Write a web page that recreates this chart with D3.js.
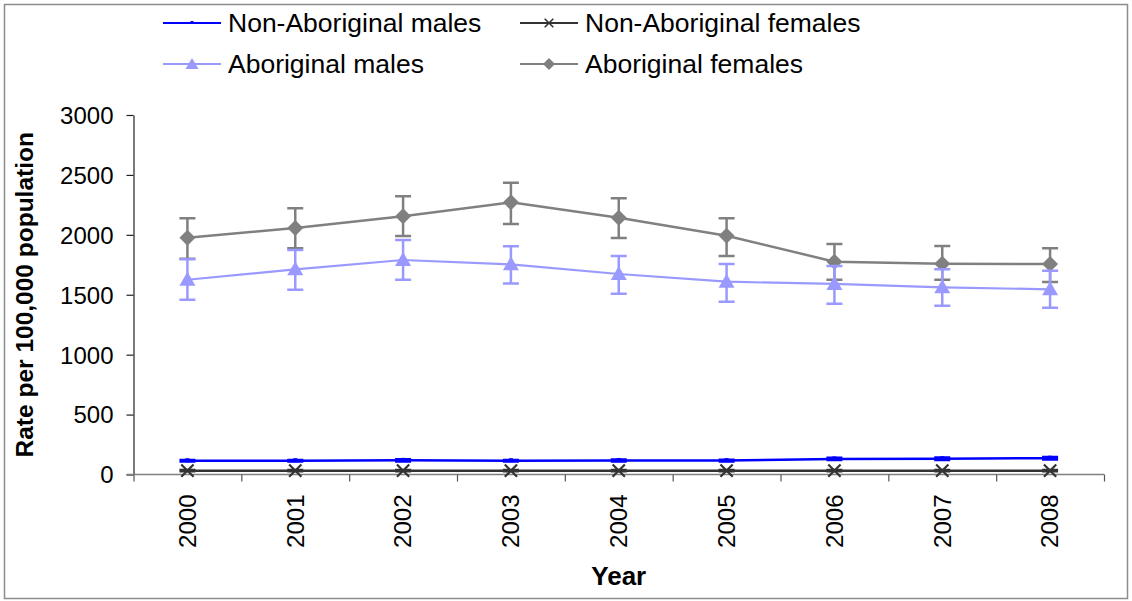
<!DOCTYPE html>
<html>
<head>
<meta charset="utf-8">
<script src="https://cdn.jsdelivr.net/npm/d3@7"></script>
<style>
  body { margin: 0; background: #fff; }
  svg { font-family: "Liberation Sans", Arial, sans-serif; }
</style>
</head>
<body>
<svg id="chart"></svg>
<script>
// categories and values
const years = ["2000", "2001", "2002", "2003", "2004", "2005", "2006", "2007", "2008"];
const yTicks = [0, 500, 1000, 1500, 2000, 2500, 3000];

const nonAbMales = [115, 115, 118, 115, 117, 116, 130, 132, 136];
const nonAbMalesLo = [108, 108, 108, 108, 108, 108, 120, 122, 126];
const nonAbMalesHi = [122, 122, 128, 122, 126, 124, 140, 142, 146];

const nonAbFemales = [32, 32, 32, 32, 32, 32, 32, 32, 32];
const nonAbFemalesLo = [27, 27, 27, 27, 27, 27, 27, 27, 27];
const nonAbFemalesHi = [37, 37, 37, 37, 37, 37, 37, 37, 37];

const abMales = [1625, 1712, 1790, 1754, 1673, 1609, 1590, 1562, 1545];
const abMalesLo = [1459, 1542, 1626, 1593, 1509, 1442, 1425, 1409, 1392];
const abMalesHi = [1796, 1874, 1957, 1904, 1823, 1757, 1740, 1712, 1700];

const abFemales = [1976, 2057, 2155, 2271, 2143, 1993, 1776, 1759, 1757];
const abFemalesLo = [1801, 1888, 1990, 2090, 1974, 1823, 1626, 1626, 1606];
const abFemalesHi = [2138, 2221, 2322, 2435, 2305, 2138, 1923, 1907, 1888];

const seriesNames = ["Non-Aboriginal males", "Non-Aboriginal females", "Aboriginal males", "Aboriginal females"];

function drawChart() {
    var wtot = 1132, htot = 601;
    var margin = { top: 115, right: 28, bottom: 126.5, left: 133.5 };

    const svg = d3.select("#chart")
        .attr("width", wtot)
        .attr("height", htot)
        .attr("viewBox", "0 0 " + wtot + " " + htot);

    // outer frame
    svg.append("rect")
        .attr("x", 4.5).attr("y", 4.5)
        .attr("width", wtot - 9).attr("height", htot - 7)
        .attr("fill", "#fff")
        .attr("stroke", "#8c8c8c")
        .attr("stroke-width", 1.5);

    // scales
    const xScale = d3.scaleBand(years, [margin.left, wtot - margin.right]);
    const xc = d => xScale(d) + xScale.bandwidth() / 2;
    const xEdge = d3.scaleLinear([0, years.length], [margin.left, wtot - margin.right]);
    const yScale = d3.scaleLinear([0, 3000], [htot - margin.bottom, margin.top]);

    // y axis
    svg.append("g")
        .attr("transform", `translate(${margin.left},0)`)
        .call(d3.axisLeft(yScale).tickValues(yTicks).tickFormat(d3.format("d"))
            .tickSizeInner(7).tickSizeOuter(0).tickPadding(13))
        .call(g => g.select(".domain").attr("stroke", "#222").attr("stroke-width", 1.2))
        .call(g => g.selectAll(".tick line").attr("stroke", "#222").attr("stroke-width", 1.2))
        .call(g => g.selectAll(".tick text")
            .attr("font-size", 24)
            .attr("fill", "#000")
            .attr("dy", "0.35em"));

    // x axis: edge ticks
    svg.append("g")
        .attr("transform", `translate(0,${yScale(0)})`)
        .call(d3.axisBottom(xEdge).tickValues(d3.range(years.length + 1)).tickFormat("").tickSizeInner(7).tickSizeOuter(0))
        .call(g => g.select(".domain").attr("stroke", "#808080").attr("stroke-width", 1.5)
            .attr("d", `M${margin.left - 7},0H${wtot - margin.right}`))
        .call(g => g.selectAll(".tick line").attr("stroke", "#555").attr("stroke-width", 1.2));

    // x axis: rotated labels
    svg.append("g")
        .attr("transform", `translate(0,${yScale(0)})`)
        .call(d3.axisBottom(xScale).tickSize(0).tickPadding(0))
        .call(g => g.select(".domain").remove())
        .call(g => g.selectAll(".tick text")
            .attr("font-size", 24)
            .attr("fill", "#000")
            .attr("text-anchor", "end")
            .attr("transform", "rotate(-90)")
            .attr("x", -20)
            .attr("y", 0)
            .attr("dy", "0.35em"));

    // axis titles
    svg.append("text")
        .attr("transform", `translate(33,${(margin.top + yScale(0)) / 2}) rotate(-90)`)
        .attr("text-anchor", "middle")
        .attr("font-size", 24.5)
        .attr("font-weight", "bold")
        .text("Rate per 100,000 population");

    svg.append("text")
        .attr("x", (margin.left + wtot - margin.right) / 2)
        .attr("y", 585)
        .attr("text-anchor", "middle")
        .attr("font-size", 26)
        .attr("font-weight", "bold")
        .text("Year");

    const series = [
        { name: seriesNames[0], v: nonAbMales, lo: nonAbMalesLo, hi: nonAbMalesHi, color: "#0000ff", width: 2.5, marker: "dash" },
        { name: seriesNames[1], v: nonAbFemales, lo: nonAbFemalesLo, hi: nonAbFemalesHi, color: "#333333", width: 2.5, marker: "cross" },
        { name: seriesNames[2], v: abMales, lo: abMalesLo, hi: abMalesHi, color: "#9999ff", width: 2.2, marker: "triangle" },
        { name: seriesNames[3], v: abFemales, lo: abFemalesLo, hi: abFemalesHi, color: "#808080", width: 2.5, marker: "diamond" }
    ];

    function drawMarker(g, type, color) {
        if (type === "dash") {
            g.append("rect").attr("x", -2).attr("y", -2.5).attr("width", 4).attr("height", 4).attr("fill", color);
        } else if (type === "cross") {
            g.append("path").attr("d", d3.symbol(d3.symbolX, 100)())
                .attr("fill", "none").attr("stroke", color).attr("stroke-width", 2.2);
        } else if (type === "triangle") {
            g.append("path").attr("d", "M0,-8L8,6L-8,6Z").attr("fill", color);
        } else if (type === "diamond") {
            g.append("path").attr("d", "M0,-8L8,0L0,8L-8,0Z").attr("fill", color);
        }
    }

    const I = d3.range(years.length);
    const plot = svg.append("g");

    // draw from back to front: aboriginal females, aboriginal males, then non-aboriginal
    [3, 2, 1, 0].forEach(k => {
        const s = series[k];
        const g = plot.append("g");

        // error bars
        g.append("g")
            .attr("stroke", s.color)
            .attr("stroke-width", 2.5)
            .attr("fill", "none")
            .selectAll("path")
            .data(I)
            .join("path")
            .attr("d", i => {
                const x = xc(years[i]), y1 = yScale(s.lo[i]), y2 = yScale(s.hi[i]);
                return `M${x},${y1}V${y2}M${x - 8},${y1}H${x + 8}M${x - 8},${y2}H${x + 8}`;
            });

        // line
        g.append("path")
            .attr("fill", "none")
            .attr("stroke", s.color)
            .attr("stroke-width", s.width)
            .attr("d", d3.line().x(i => xc(years[i])).y(i => yScale(s.v[i]))(I));

        // markers
        g.selectAll("g.mk")
            .data(I)
            .join("g")
            .attr("class", "mk")
            .attr("transform", i => `translate(${xc(years[i])},${yScale(s.v[i])})`)
            .each(function() { drawMarker(d3.select(this), s.marker, s.color); });
    });

    // legend
    const legendPos = [
        { x: 163, y: 23 },
        { x: 520, y: 23 },
        { x: 163, y: 64 },
        { x: 520, y: 64 }
    ];
    const legend = svg.append("g");
    series.forEach((s, k) => {
        const p = legendPos[k];
        const g = legend.append("g").attr("transform", `translate(${p.x},${p.y})`);
        g.append("line")
            .attr("x1", 0).attr("x2", 58)
            .attr("stroke", s.color)
            .attr("stroke-width", s.marker === "triangle" ? 2 : 1.8);
        const m = g.append("g").attr("transform", "translate(29,0)");
        if (s.marker === "dash") {
            m.append("rect").attr("x", -1.5).attr("y", -2).attr("width", 3).attr("height", 3).attr("fill", s.color);
        } else if (s.marker === "cross") {
            m.append("path").attr("d", d3.symbol(d3.symbolX, 50)())
                .attr("fill", "none").attr("stroke", s.color).attr("stroke-width", 1.6);
        } else if (s.marker === "triangle") {
            m.append("path").attr("d", "M0,-6L6.5,5L-6.5,5Z").attr("fill", s.color);
        } else {
            m.append("path").attr("d", "M0,-6L6,0L0,6L-6,0Z").attr("fill", s.color);
        }
        g.append("text")
            .attr("x", 65)
            .attr("y", 0)
            .attr("dy", "0.35em")
            .attr("font-size", 26.5)
            .attr("fill", "#000")
            .text(s.name);
    });
}

drawChart();
</script>
</body>
</html>
